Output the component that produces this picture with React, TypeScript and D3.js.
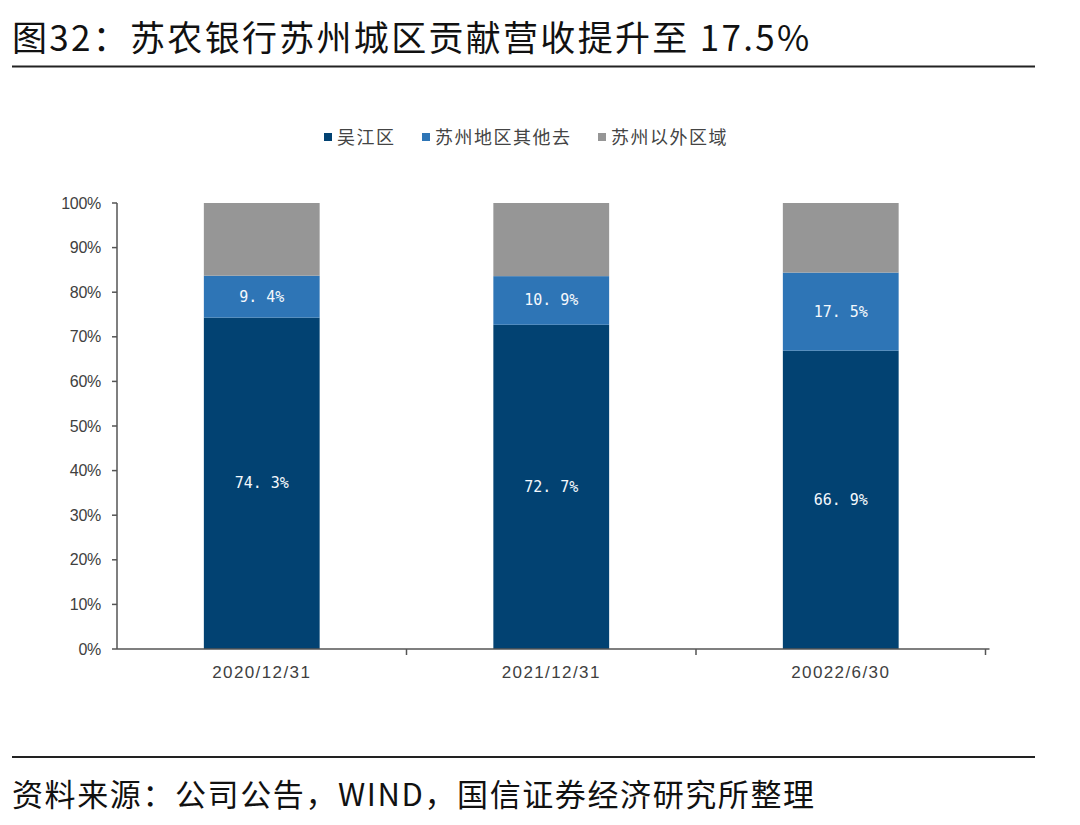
import * as d3 from 'd3';

const categories = ['2020/12/31', '2021/12/31', '20022/6/30'];
const seriesNames = ['吴江区', '苏州地区其他去', '苏州以外区域'];
const wujiang = [74.3, 72.7, 66.9];
const suzhouOther = [9.4, 10.9, 17.5];
const outside = [16.3, 16.4, 15.6];
const yTicks = [0, 10, 20, 30, 40, 50, 60, 70, 80, 90, 100];

const COLORS = ['#024272', '#2E75B6', '#969696'];
const CJK = '"Noto Sans CJK SC", "Noto Sans", sans-serif';
const LATIN = '"Liberation Sans", Arial, sans-serif';

const PLOT = { left: 117, right: 985.5, top: 203, bottom: 649 };

export default function App() {
  const rows = categories.map((c, i) => ({
    cat: c,
    s0: wujiang[i],
    s1: suzhouOther[i],
    s2: outside[i],
  }));
  const keys = ['s0', 's1', 's2'];
  const stacked = d3.stack<any>().keys(keys)(rows);

  const xScale = d3
    .scaleBand()
    .domain(categories)
    .range([PLOT.left, PLOT.right])
    .paddingInner(0.6)
    .paddingOuter(0.3);

  const yScale = d3.scaleLinear().domain([0, 100]).range([PLOT.bottom, PLOT.top]);

  const bw = xScale.bandwidth();
  const step = xScale.step();

  // legend squares, x positions
  const legendX = [324, 422, 598];

  return (
    <svg width={1064} height={809} style={{ display: 'block', margin: 0 }}>
      <rect x={0} y={0} width={1064} height={809} fill="#fff" />
      <g transform="translate(-8,-8)">
        {/* title */}
        <text x={12} y={51} fontFamily={CJK} fontSize={35} letterSpacing={2.3} fill="#111">
          图32：苏农银行苏州城区贡献营收提升至 17.5%
        </text>
        <line x1={12} x2={1035} y1={66.5} y2={66.5} stroke="#222" strokeWidth={2} />

        {/* legend */}
        {seriesNames.map((name, i) => (
          <g key={name}>
            <rect x={legendX[i]} y={133} width={8} height={8} fill={COLORS[i]} />
            <text
              x={legendX[i] + 13}
              y={144}
              fontFamily={CJK}
              fontSize={18}
              letterSpacing={1.5}
              fill="#444"
            >
              {name}
            </text>
          </g>
        ))}

        {/* bars */}
        {stacked.map((layer, li) => (
          <g key={li}>
            {layer.map((d, i) => {
              const x = xScale(categories[i]) as number;
              const y0 = yScale(d[0]);
              const y1 = yScale(d[1]);
              return (
                <g key={i}>
                  <rect x={x} y={y1} width={bw} height={y0 - y1} fill={COLORS[li]} />
                  {li < 2 && (
                    <text
                      x={x + bw / 2}
                      y={(y0 + y1) / 2}
                      textAnchor="middle"
                      dominantBaseline="central"
                      fontFamily='"DejaVu Sans Mono", monospace'
                      fontSize={15}
                      fill="#f4f8fc"
                    >
                      {(d[1] - d[0]).toFixed(1).replace('.', '. ') + '%'}
                    </text>
                  )}
                </g>
              );
            })}
          </g>
        ))}

        {/* y axis */}
        <line x1={PLOT.left} x2={PLOT.left} y1={PLOT.top} y2={PLOT.bottom} stroke="#555" strokeWidth={1.5} />
        {yTicks.map((t) => (
          <g key={t}>
            <line
              x1={PLOT.left - 5}
              x2={PLOT.left}
              y1={yScale(t)}
              y2={yScale(t)}
              stroke="#555"
              strokeWidth={1.5}
            />
            <text
              x={PLOT.left - 16}
              y={yScale(t)}
              textAnchor="end"
              dominantBaseline="central"
              fontFamily={LATIN}
              fontSize={16}
              letterSpacing={-0.3}
              fill="#404040"
            >
              {t}%
            </text>
          </g>
        ))}

        {/* x axis */}
        <line x1={PLOT.left} x2={PLOT.right + 4} y1={PLOT.bottom} y2={PLOT.bottom} stroke="#555" strokeWidth={1.5} />
        {categories.map((c, i) => (
          <g key={c}>
            <line
              x1={PLOT.left + step * (i + 1)}
              x2={PLOT.left + step * (i + 1)}
              y1={PLOT.bottom}
              y2={PLOT.bottom + 6}
              stroke="#555"
              strokeWidth={1.5}
            />
            <text
              x={(xScale(c) as number) + bw / 2}
              y={672}
              textAnchor="middle"
              dominantBaseline="central"
              fontFamily={LATIN}
              fontSize={17}
              letterSpacing={1.4}
              fill="#404040"
            >
              {c}
            </text>
          </g>
        ))}

        {/* footer */}
        <line x1={12} x2={1035} y1={757} y2={757} stroke="#222" strokeWidth={2} />
        <text x={12} y={806} fontFamily={CJK} fontSize={31} letterSpacing={1.6} fill="#111">
          资料来源：公司公告，WIND，国信证券经济研究所整理
        </text>
      </g>
    </svg>
  );
}
